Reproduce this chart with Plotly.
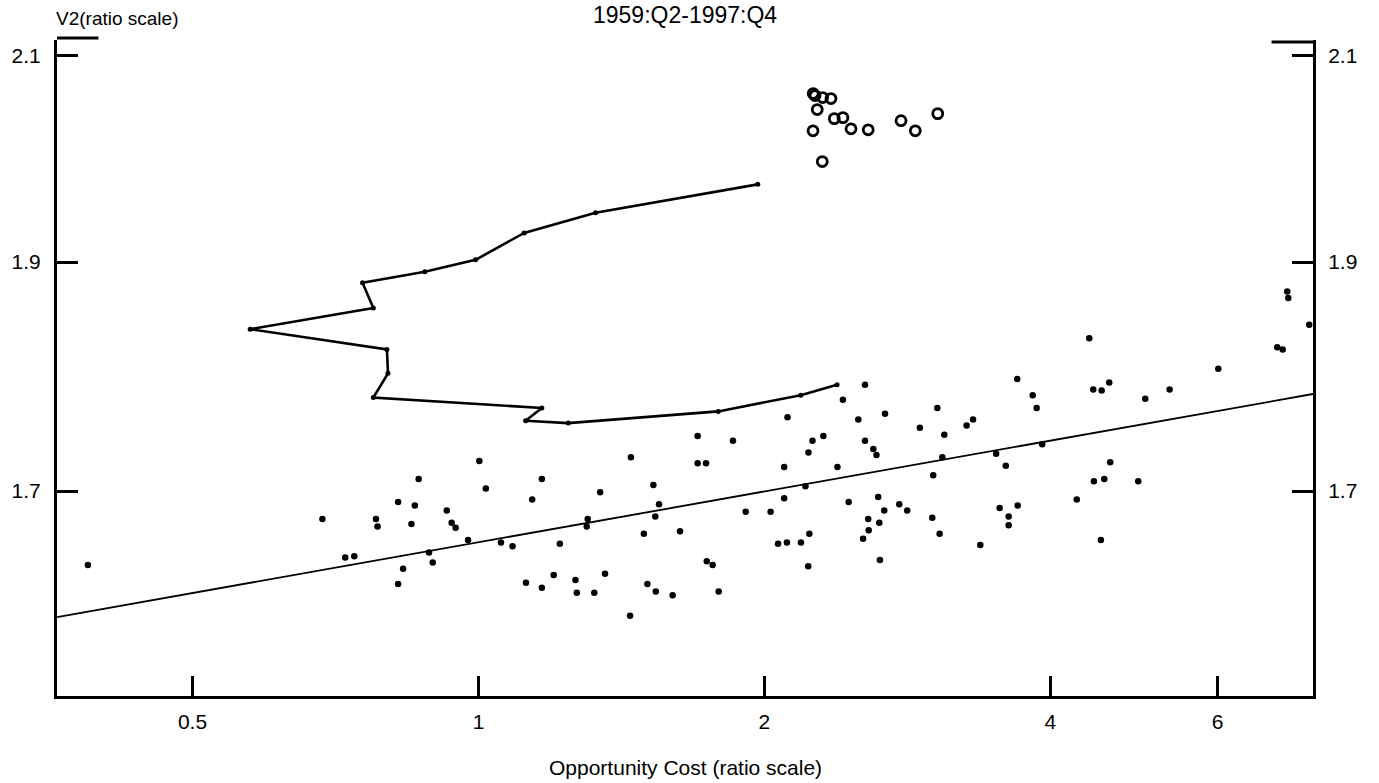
import plotly.graph_objects as go

# ---- data ----
dot_x = [0.388, 0.685, 0.724, 0.740, 0.780, 0.783, 0.823, 0.865, 0.857, 0.850,
         0.887, 0.895, 0.833, 0.823, 0.926, 0.937, 0.946, 0.975, 1.002, 1.018,
         1.056, 1.086, 1.122, 1.139, 1.166, 1.166, 1.200, 1.218, 1.265, 1.269,
         1.324, 1.359, 1.303, 1.300, 1.343, 1.444, 1.447, 1.493, 1.506, 1.537,
         1.601, 1.528, 1.549, 1.535, 1.630, 1.701, 1.701, 1.736, 1.853, 2.115,
         2.098, 2.225, 2.247, 2.307, 2.419, 2.387, 2.209, 2.098, 2.511, 2.552,
         2.552, 2.604, 2.624, 2.679, 2.635, 2.915, 3.041, 3.093, 3.078, 3.011,
         3.265, 3.316, 3.507, 3.590, 3.691, 3.832, 3.869, 3.921, 4.264, 1.911,
         2.030, 2.453, 2.674, 2.773, 2.827, 3.004, 3.058, 3.537, 3.695, 3.615,
         3.615, 3.375, 2.572, 2.575, 2.642, 2.540, 2.646, 2.230, 2.067, 2.112,
         2.185, 2.224, 1.739, 1.764, 1.790, 4.395, 4.438, 4.529, 4.613, 5.034,
         5.340, 6.009, 6.932, 7.024, 7.102, 7.120, 7.491, 4.624, 4.445, 4.558,
         4.949, 4.521]
dot_y = [1.640, 1.677, 1.646, 1.647, 1.677, 1.671, 1.691, 1.710, 1.688, 1.673,
         1.650, 1.642, 1.637, 1.625, 1.684, 1.674, 1.670, 1.660, 1.725, 1.702,
         1.658, 1.655, 1.626, 1.693, 1.710, 1.622, 1.632, 1.657, 1.628, 1.618,
         1.618, 1.633, 1.677, 1.671, 1.699, 1.600, 1.728, 1.665, 1.625, 1.619,
         1.616, 1.705, 1.689, 1.679, 1.667, 1.746, 1.723, 1.723, 1.742, 1.762,
         1.720, 1.732, 1.742, 1.746, 1.777, 1.720, 1.704, 1.694, 1.760, 1.790,
         1.742, 1.735, 1.730, 1.765, 1.695, 1.753, 1.770, 1.747, 1.728, 1.713,
         1.755, 1.760, 1.731, 1.721, 1.795, 1.781, 1.770, 1.739, 1.693, 1.683,
         1.683, 1.691, 1.684, 1.689, 1.684, 1.678, 1.665, 1.686, 1.688, 1.679,
         1.672, 1.656, 1.677, 1.668, 1.674, 1.661, 1.644, 1.665, 1.657, 1.658,
         1.658, 1.639, 1.643, 1.640, 1.619, 1.831, 1.786, 1.785, 1.792, 1.778,
         1.786, 1.804, 1.823, 1.821, 1.873, 1.867, 1.843, 1.724, 1.708, 1.710,
         1.708, 1.660]

circle_x = [2.251, 2.261, 2.303, 2.350, 2.273, 2.369, 2.419, 2.467, 2.572, 2.250,
            2.301, 2.785, 2.883, 3.044]
circle_y = [2.062, 2.060, 2.058, 2.057, 2.046, 2.037, 2.038, 2.027, 2.026, 2.025,
            1.995, 2.035, 2.025, 2.042]

path_x = [1.968, 1.328, 1.117, 0.993, 0.878, 0.755, 0.775, 0.575, 0.801, 0.803,
          0.775, 1.166, 1.121, 1.243, 1.788, 2.184, 2.385]
path_y = [1.973, 1.946, 1.927, 1.902, 1.891, 1.881, 1.858, 1.839, 1.821, 1.800,
          1.779, 1.770, 1.759, 1.757, 1.767, 1.781, 1.790]

fit_x = [0.36, 7.56]
fit_y = [1.599, 1.782]

x_ticks = [0.5, 1, 2, 4, 6]
x_tick_labels = ["0.5", "1", "2", "4", "6"]
y_ticks = [1.7, 1.9, 2.1]
y_tick_labels = ["1.7", "1.9", "2.1"]

title_text = "1959:Q2-1997:Q4"
y_label = "V2(ratio scale)"
x_label = "Opportunity Cost (ratio scale)"

FONT = "Liberation Sans, Arial, sans-serif"
X_RANGE = [-0.4437, 0.8785]
Y_RANGE = [0.18721, 0.32558]

fig = go.Figure()

fig.add_trace(go.Scatter(x=fit_x, y=fit_y, mode="lines",
                         line=dict(color="black", width=1.8),
                         hoverinfo="skip", showlegend=False))
fig.add_trace(go.Scatter(x=path_x, y=path_y, mode="lines+markers",
                         line=dict(color="black", width=2.6),
                         marker=dict(color="black", size=5),
                         showlegend=False))
fig.add_trace(go.Scatter(x=dot_x, y=dot_y, mode="markers",
                         marker=dict(color="black", size=6.5),
                         showlegend=False))
fig.add_trace(go.Scatter(x=circle_x, y=circle_y, mode="markers", yaxis="y2",
                         marker=dict(symbol="circle-open", color="black", size=10,
                                     line=dict(width=2.8, color="black")),
                         showlegend=False))

axis_font = dict(family=FONT, size=21, color="black")

fig.update_layout(
    width=1379, height=783,
    margin=dict(l=57, r=66, t=40, b=87),
    paper_bgcolor="white", plot_bgcolor="white",
    showlegend=False,
    xaxis=dict(type="log", range=X_RANGE, tickvals=x_ticks, ticktext=x_tick_labels,
               ticks="inside", ticklen=20, tickwidth=3, tickcolor="black",
               showline=True, linewidth=3, linecolor="black",
               showgrid=False, zeroline=False, tickfont=axis_font,
               ticklabelstandoff=5),
    yaxis=dict(type="log", range=Y_RANGE, tickvals=y_ticks, ticktext=y_tick_labels,
               ticks="inside", ticklen=21, tickwidth=3, tickcolor="black",
               showline=True, linewidth=3, linecolor="black",
               showgrid=False, zeroline=False, tickfont=axis_font,
               ticklabelstandoff=9),
    yaxis2=dict(type="log", range=Y_RANGE, tickvals=y_ticks, ticktext=y_tick_labels,
                overlaying="y", side="right",
                ticks="inside", ticklen=21, tickwidth=3, tickcolor="black",
                showline=True, linewidth=3, linecolor="black",
                showgrid=False, zeroline=False, tickfont=axis_font,
                ticklabelstandoff=8),
    annotations=[
        dict(text=title_text, xref="paper", yref="paper", x=0.5, y=1,
             xanchor="center", yanchor="bottom", yshift=10, showarrow=False,
             font=dict(family=FONT, size=23, color="black")),
        dict(text=y_label, xref="paper", yref="paper", x=0, y=1,
             xanchor="left", yanchor="bottom", xshift=-3, yshift=9, showarrow=False,
             font=dict(family=FONT, size=19, color="black")),
        dict(text=x_label, xref="paper", yref="paper", x=0.5, y=0,
             xanchor="center", yanchor="top", yshift=-58, showarrow=False,
             font=dict(family=FONT, size=21, color="black")),
    ],
    shapes=[
        dict(type="line", xref="x domain", yref="y domain", x0=0, x1=0.033, y0=1.003, y1=1.003,
             line=dict(color="black", width=3)),
        dict(type="line", xref="x domain", yref="y domain", x0=0.967, x1=1, y0=0.997, y1=0.997,
             line=dict(color="black", width=3)),
    ],
)

fig.write_html("out.html", config={"displayModeBar": False},
               post_script="document.body.style.margin='0';")
